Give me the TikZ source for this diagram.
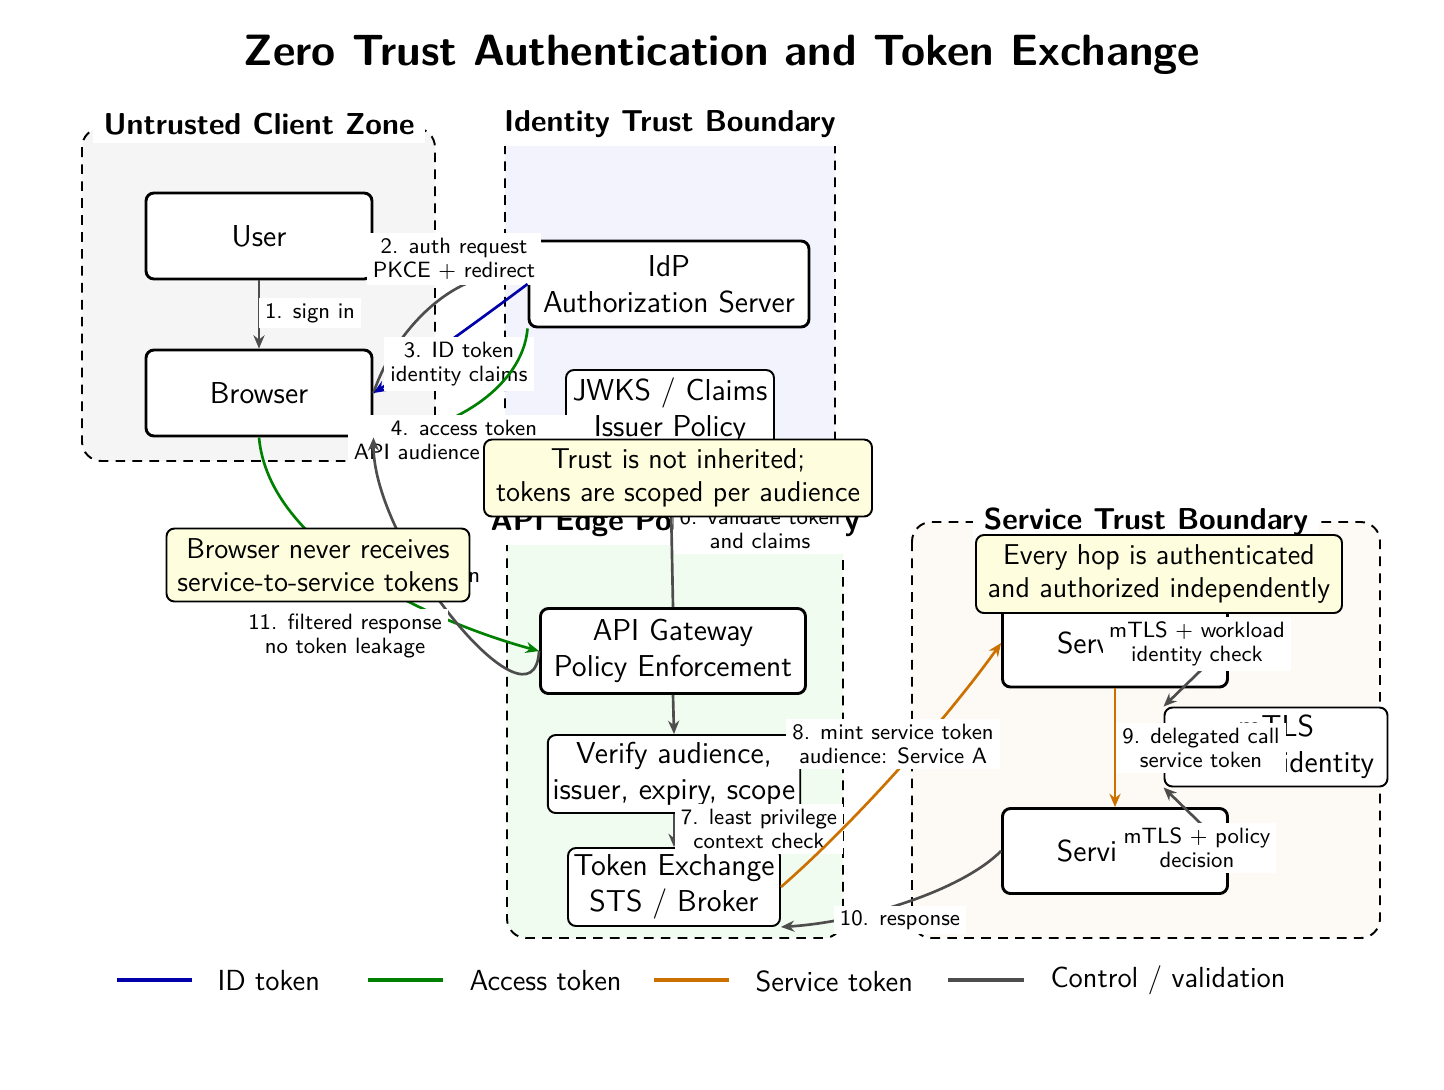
\documentclass[tikz,border=0pt]{standalone}
\usepackage{fontspec}
\usetikzlibrary{arrows.meta}
\definecolor{idblue}{RGB}{0,0,170}
\definecolor{accgreen}{RGB}{0,128,0}
\definecolor{svcorange}{RGB}{204,112,0}
\definecolor{ctrlgray}{RGB}{77,77,77}
\definecolor{notefill}{RGB}{254,254,222}
\definecolor{zgray}{RGB}{245,245,245}
\definecolor{zblue}{RGB}{243,243,254}
\definecolor{zgreen}{RGB}{240,252,240}
\definecolor{zorange}{RGB}{253,249,244}
\tikzset{
  sz/.style 2 args={minimum width=#1*0.4132pt, minimum height=#2*0.4132pt},
  mainbox/.style={draw, fill=white, rounded corners=3.3pt, line width=1.2pt, align=center,
    inner xsep=2pt, inner ysep=2.5pt, font=\sffamily\fontsize{12.5}{14.8}\selectfont},
  subbox/.style={mainbox, line width=0.8pt},
  lbl/.style={fill=white, align=center, inner xsep=2.5pt, inner ysep=2pt,
    font=\sffamily\fontsize{9.15}{10}\selectfont},
  notebox/.style={draw, fill=notefill, rounded corners=3.3pt, line width=0.8pt, align=center,
    inner xsep=4pt, inner ysep=3.5pt, font=\sffamily\fontsize{11.85}{13.8}\selectfont},
  zone/.style={draw, dash pattern=on 4pt off 3pt, line width=0.8pt, rounded corners=8pt},
  ztitle/.style={fill=white, anchor=base, inner xsep=4.5pt, inner ysep=3.5pt,
    font=\sffamily\bfseries\fontsize{12.5}{14}\selectfont},
  conn/.style={line width=1.1pt, -{Stealth[length=5.5pt,width=4.6pt]}},
  ctrl/.style={conn, draw=ctrlgray},
  idtok/.style={conn, draw=idblue},
  acctok/.style={conn, draw=accgreen},
  svctok/.style={conn, draw=svcorange},
  legline/.style={line width=1.5pt},
  legtext/.style={anchor=west, font=\sffamily\fontsize{12}{14}\selectfont},
}
\begin{document}
\begin{tikzpicture}[x=0.4132pt, y=-0.4132pt, font=\sffamily]
\useasboundingbox (0,0) rectangle (1444,1089);
\fill[white] (0,0) rectangle (1444,1089);

% zones
\draw[zone, fill=zgray] (82,128) rectangle (435,461);
\draw[zone, fill=zblue] (505,125) rectangle (835,475);
\draw[zone, fill=zgreen] (507,505) rectangle (843,938);
\draw[zone, fill=zorange] (912,522) rectangle (1380,938);

\node[ztitle] (tuntr) at (259,134) {Untrusted Client Zone};
\node[ztitle] (tid) at (670,131) {Identity Trust Boundary};
\node[ztitle] (tapi) at (675,530) {API Edge Policy Boundary};
\node[ztitle] (tsvc) at (1146,529) {Service Trust Boundary};

% nodes
\node[mainbox, sz={226}{86}] (user) at (259,236) {User};
\node[mainbox, sz={226}{86}] (browser) at (259,393) {Browser};
\node[mainbox, sz={280}{86}] (idp) at (669,284) {IdP\\Authorization Server};
\node[subbox, sz={208}{80}] (jwks) at (670,410) {JWKS / Claims\\Issuer Policy};
\node[mainbox, sz={265}{85}] (gw) at (673,651) {API Gateway\\Policy Enforcement};
\node[subbox, sz={252}{78}] (verify) at (674,774) {Verify audience,\\issuer, expiry, scope};
\node[subbox, sz={212}{78}] (sts) at (674,887) {Token Exchange\\STS / Broker};
\node[mainbox, sz={225}{88}] (svca) at (1115,643) {Service A};
\node[subbox, sz={223}{79}] (mtls) at (1276,747) {mTLS\\SPIFFE identity};
\node[mainbox, sz={225}{85}] (svcb) at (1115,851) {Service B};

% connectors
\draw[ctrl] (user.south) -- (browser.north)
  node[lbl] (l1) at (310,313) {1. sign in};
\draw[ctrl] (browser.east) .. controls +(25,-75) and +(-55,-25) .. (idp.west)
  node[lbl] (l2) at (454,259) {2. auth request\\PKCE + redirect};
\draw[idtok] (idp.west) .. controls +(-40,30) and +(40,-25) .. (browser.east)
  node[lbl] (l3) at (459,364) {3. ID token\\identity claims};
\draw[acctok] (idp.south west) .. controls +(-5,60) and +(75,-5) .. (browser.south east)
  node[lbl] (l4) at (464,442) {4. access token\\API audience + scopes};
\draw[acctok] (browser.south) .. controls +(10,110) and +(-110,-30) .. (gw.west)
  node[lbl] (l5) at (374,575) {5. bearer access token};
\draw[ctrl] (gw.north) -- (jwks.south)
  node[lbl] (l6) at (760,529) {6. validate token\\and claims};
\draw[ctrl] (gw.south) -- (verify.north);
\draw[ctrl] (verify.south) -- (sts.north)
  node[lbl] (l7) at (759,829) {7. least privilege\\context check};
\draw[svctok] (sts.east) .. controls +(80,-70) and +(-50,70) .. (svca.west)
  node[lbl] (l8) at (893,744) {8. mint service token\\audience: Service A};
\draw[svctok] (svca.south) -- (svcb.north)
  node[lbl] (l9) at (1201,748) {9. delegated call\\service token};
\draw[ctrl] (svcb.west) .. controls +(-40,40) and +(80,-5) .. (sts.south east)
  node[lbl] (l10) at (900,920) {10. response};
\draw[ctrl] (svca.east) -- (mtls.north west)
  node[lbl] (l12) at (1197,644) {mTLS + workload\\identity check};
\draw[ctrl] (svcb.east) -- (mtls.south west)
  node[lbl] (l13) at (1197,848) {mTLS + policy\\decision};
\draw[ctrl] (gw.west) .. controls +(-5,90) and +(0,110) .. (browser.south east)
  node[lbl] (l11) at (345,636) {11. filtered response\\no token leakage};

% notes
\node[notebox, sz={388}{77}] (trustnote) at (678,478) {Trust is not inherited;\\tokens are scoped per audience};
\node[notebox, sz={303}{73}] (brnote) at (318,565) {Browser never receives\\service-to-service tokens};
\node[notebox, sz={366}{78}] (hopnote) at (1159,574) {Every hop is authenticated\\and authorized independently};

% title
\node[font=\sffamily\bfseries\fontsize{18.1}{21}\selectfont] (title) at (722,55) {Zero Trust Authentication and Token Exchange};

% legend
\draw[legline, idblue] (117,980) -- (192,980);
\node[legtext] (lid) at (209,981) {ID token};
\draw[legline, accgreen] (368,980) -- (443,980);
\node[legtext] (lacc) at (461,981) {Access token};
\draw[legline, svcorange] (654,980) -- (729,980);
\node[legtext] (lsvc) at (747,981) {Service token};
\draw[legline, ctrlgray] (948,980) -- (1024,980);
\node[legtext] (lctl) at (1042,980) {Control / validation};
\end{tikzpicture}
\end{document}
